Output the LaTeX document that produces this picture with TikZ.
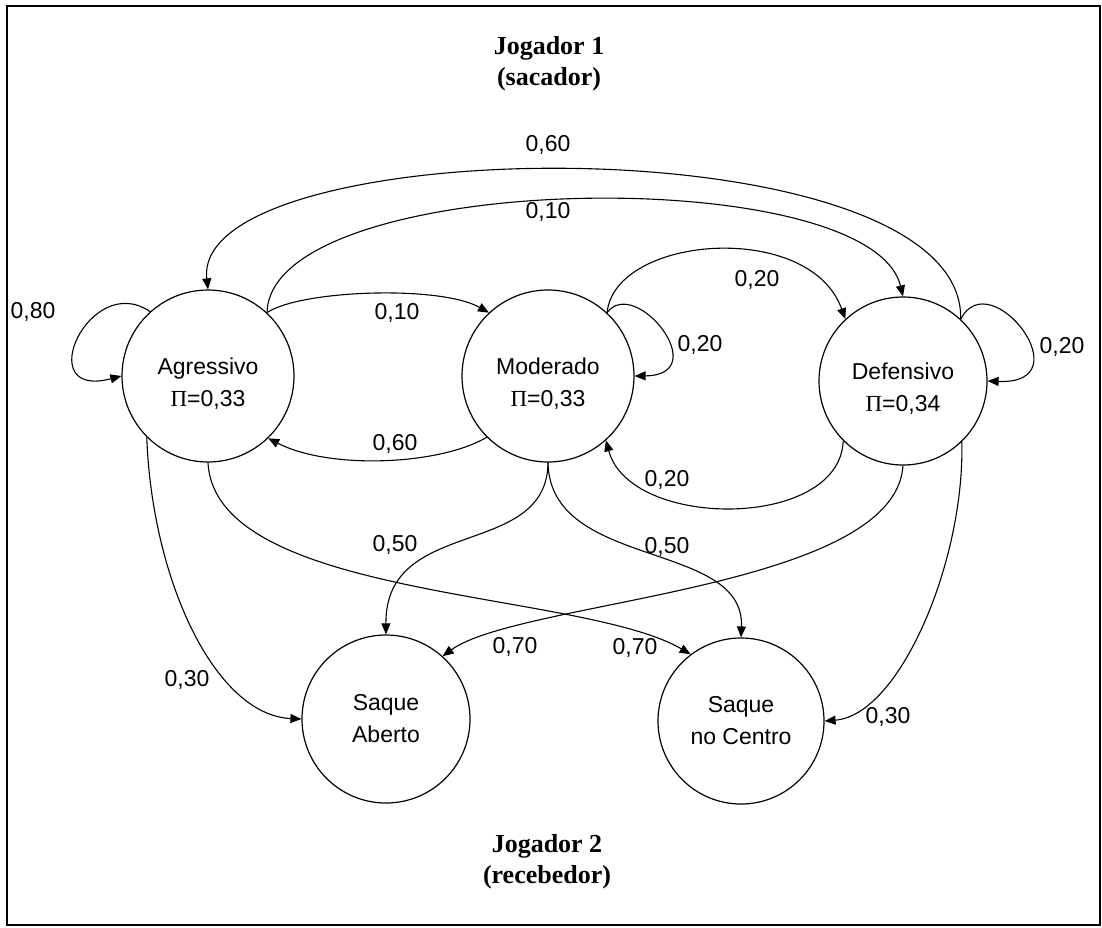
\documentclass[tikz,border=0pt]{standalone}
\usepackage{fontspec}
\setmainfont{Liberation Sans}
\newfontfamily\serifb{Liberation Serif}
\usetikzlibrary{arrows.meta}
\tikzset{
  state/.style={draw, circle, line width=1.2pt, inner sep=0pt, align=center,
    font=\fontsize{23}{32}\selectfont},
  edge/.style={line width=1.1pt, -{Triangle[length=11pt,width=9pt]}},
  lbl/.style={font=\fontsize{23}{28}\selectfont, inner sep=0pt},
  title/.style={font=\serifb\bfseries\fontsize{26}{31}\selectfont, align=center, inner sep=0pt}
}
\newcommand{\PiS}{{\serifb Π}}
\newcommand{\lowtext}[2]{\raisebox{-8pt}[\height][\depth]{\begin{tabular}{@{}c@{}}#1\\#2\end{tabular}}}
\begin{document}
\begin{tikzpicture}[x=1pt,y=-1pt]
\useasboundingbox (0,0) rectangle (1102,927);
\draw[line width=1.5pt] (7,6) rectangle (1100,925);

\node[title] (t1) at (549,64) {Jogador 1\\(sacador)};
\node[title] (t2) at (547,862) {Jogador 2\\(recebedor)};

\node[state, minimum size=172pt] (A) at (208,376) {\lowtext{Agressivo}{\PiS=0,33}};
\node[state, minimum size=172pt] (M) at (548,376) {\lowtext{Moderado}{\PiS=0,33}};
\node[state, minimum size=168pt] (D) at (903,381) {\lowtext{Defensivo}{\PiS=0,34}};
\node[state, minimum size=168pt] (SA) at (386,719) {Saque\\Aberto};
\node[state, minimum size=166pt] (SC) at (741,721) {Saque\\no Centro};

% self loops
\draw[edge] (A.132) .. controls (90,270) and (30,400) .. (A.180);
\draw[edge] (M.47) .. controls (635,275) and (715,375) .. (M.0);
\draw[edge] (D.47) .. controls (990,262) and (1085,385) .. (D.0);

% top arcs
\draw[edge] (A.47) .. controls (300,290) and (440,285) .. (M.133);
\draw[edge] (A.47) .. controls (270,170) and (870,160) .. (D.90);
\draw[edge] (D.47) .. controls (965,120) and (190,130) .. (A.90);
\draw[edge] (M.47) .. controls (615,235) and (810,220) .. (D.133);

% lower arcs between top states
\draw[edge] (M.225) .. controls (440,465) and (330,470) .. (A.314);
\draw[edge] (D.225) .. controls (840,530) and (630,530) .. (M.312);

% to bottom states
\draw[edge] (M.270) .. controls (547,560) and (385,515) .. (SA.90);
\draw[edge] (M.270) .. controls (550,570) and (745,540) .. (SC.90);
\draw[edge] (A.270) .. controls (215,600) and (580,590) .. (SC.127);
\draw[edge] (D.270) .. controls (895,590) and (520,600) .. (SA.48);
\draw[edge] (A.225) .. controls (152,580) and (215,715) .. (SA.180);
\draw[edge] (D.314) .. controls (965,560) and (900,715) .. (SC.0);

% labels
\node[lbl] (l1) at (33,312) {0,80};
\node[lbl] (l2) at (548,145) {0,60};
\node[lbl] (l3) at (548,212) {0,10};
\node[lbl] (l4) at (397,313) {0,10};
\node[lbl] (l5) at (700,345) {0,20};
\node[lbl] (l6) at (757,280) {0,20};
\node[lbl] (l7) at (1062,347) {0,20};
\node[lbl] (l8) at (395,444) {0,60};
\node[lbl] (l9) at (667,480) {0,20};
\node[lbl] (l10) at (395,545) {0,50};
\node[lbl] (l11) at (667,547) {0,50};
\node[lbl] (l12) at (515,647) {0,70};
\node[lbl] (l13) at (635,648) {0,70};
\node[lbl] (l14) at (187,680) {0,30};
\node[lbl] (l15) at (888,717) {0,30};
\end{tikzpicture}
\end{document}
